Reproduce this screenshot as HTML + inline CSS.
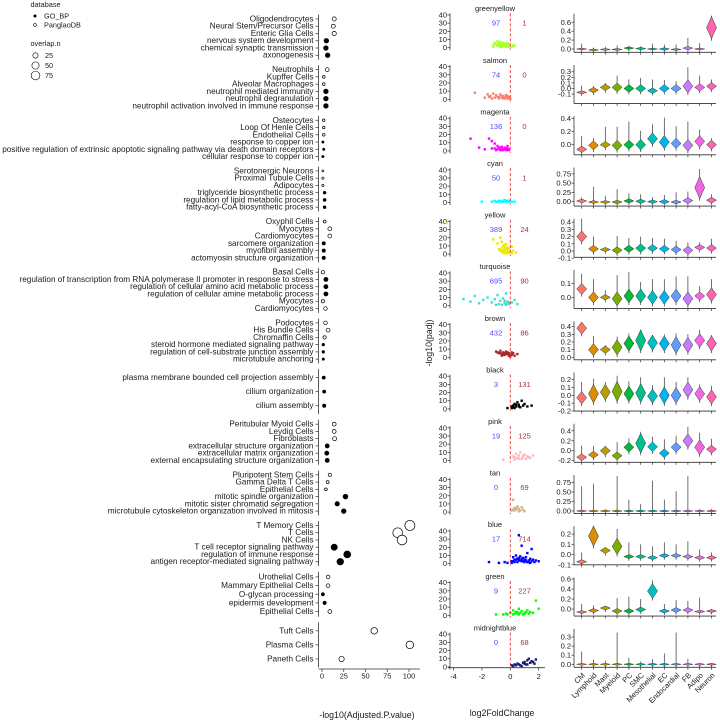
<!DOCTYPE html>
<html><head><meta charset="utf-8">
<style>
html,body{margin:0;padding:0;background:#fff;}
svg{display:block;font-family:"Liberation Sans",Arial,sans-serif;}
</style></head>
<body>
<svg id="chart" width="720" height="721" viewBox="0 0 720 721" xmlns="http://www.w3.org/2000/svg"></svg>
<script>
// ---------- LEFT: enrichment dot plot data ----------
const termLabels = [
 ["Oligodendrocytes","Neural Stem/Precursor Cells","Enteric Glia Cells","nervous system development","chemical synaptic transmission","axonogenesis"],
 ["Neutrophils","Kupffer Cells","Alveolar Macrophages","neutrophil mediated immunity","neutrophil degranulation","neutrophil activation involved in immune response"],
 ["Osteocytes","Loop Of Henle Cells","Endothelial Cells","response to copper ion","positive regulation of extrinsic apoptotic signaling pathway via death domain receptors","cellular response to copper ion"],
 ["Serotonergic Neurons","Proximal Tubule Cells","Adipocytes","triglyceride biosynthetic process","regulation of lipid metabolic process","fatty-acyl-CoA biosynthetic process"],
 ["Oxyphil Cells","Myocytes","Cardiomyocytes","sarcomere organization","myofibril assembly","actomyosin structure organization"],
 ["Basal Cells","regulation of transcription from RNA polymerase II promoter in response to stress","regulation of cellular amino acid metabolic process","regulation of cellular amine metabolic process","Myocytes","Cardiomyocytes"],
 ["Podocytes","His Bundle Cells","Chromaffin Cells","steroid hormone mediated signaling pathway","regulation of cell-substrate junction assembly","microtubule anchoring"],
 ["plasma membrane bounded cell projection assembly","cilium organization","cilium assembly"],
 ["Peritubular Myoid Cells","Leydig Cells","Fibroblasts","extracellular structure organization","extracellular matrix organization","external encapsulating structure organization"],
 ["Pluripotent Stem Cells","Gamma Delta T Cells","Epithelial Cells","mitotic spindle organization","mitotic sister chromatid segregation","microtubule cytoskeleton organization involved in mitosis"],
 ["T Memory Cells","T Cells","NK Cells","T cell receptor signaling pathway","regulation of immune response","antigen receptor-mediated signaling pathway"],
 ["Urothelial Cells","Mammary Epithelial Cells","O-glycan processing","epidermis development","Epithelial Cells"],
 ["Tuft Cells","Plasma Cells","Paneth Cells"]
];
const termDb = [
 ["P","P","P","G","G","G"],["P","P","P","G","G","G"],["P","P","P","G","G","G"],["P","P","P","G","G","G"],
 ["P","P","P","G","G","G"],["P","G","G","G","P","P"],["P","P","P","G","G","G"],["G","G","G"],
 ["P","P","P","G","G","G"],["P","P","P","G","G","G"],["P","P","P","G","G","G"],["P","P","G","G","P"],["P","P","P"]
];
const termValue = [
 [14,13,14,5,4.5,6.5],[6,2,2,4.5,4.5,4.5],[2,2,2,1,2,1],[1,1,1,3,3,3],
 [3,9,9,2,2,2],[1,4.5,4.5,4.5,1,4],[4,7,3,1.5,1.5,1.5],[2,2.5,2.5],
 [14,14,14.5,6,5.5,6],[9,6.5,4.5,27,17.5,25],[101,87,92,14,29,21],[7,7,1,3,9],[60,101,22.5]
];
const termN = [
 [14,13,15,18,18,18],[12,5,5,18,18,18],[4,4,5,3,3,3],[2,3,3,5,6,5],
 [6,12,12,8,8,8],[8,14,14,14,8,10],[10,12,8,4,4,3],[7,7,8],
 [12,12,13,14,14,14],[8,6,5,20,16,18],[100,95,95,35,45,40],[10,10,7,8,12],[40,55,25]
];
const xTicksLeft = [0,25,50,75,100];
const legendSizes = [25,50,75];

// ---------- MIDDLE: volcano data ----------
const modules = ["greenyellow","salmon","magenta","cyan","yellow","turquoise","brown","black","pink","tan","blue","green","midnightblue"];
const moduleColors = ["#ADFF2F","#FA8072","#FF00FF","#00FFFF","#E8E800","#40E0D0","#A52A2A","#000000","#FFB6C1","#D2B48C","#0000FF","#00FF00","#191970"];
const downCounts = [97,74,136,50,389,695,432,3,19,0,17,9,0];
const upCounts = [1,0,0,1,24,90,86,131,125,69,714,227,68];
const volcanoPts = [
 [[-1.1,6],[-0.9,8],[-0.8,5],[-0.7,7],[-0.6,4],[-0.5,6],[-0.4,3],[-0.3,5],[-0.2,2],[-0.1,4],[-0.9,2],[-0.6,1],[-0.3,1],[0.1,1],[0.3,2],[-1.2,1],[-0.5,2],[0.2,3],[-0.7,3],[-0.2,6],[-1.0,4],[-0.8,3],[-0.6,6],[-0.4,5],[-0.3,3],[-0.1,1],[-0.5,4],[-0.9,5],[-1.2,3],[-0.7,1]],
 [[-2.5,8],[-1.6,6],[-1.4,4],[-1.2,7],[-1.0,5],[-0.9,3],[-0.7,6],[-0.6,2],[-0.5,4],[-0.4,1],[-0.3,3],[-0.2,2],[-0.1,1],[-1.8,2],[-0.8,1],[-1.3,1],[0,0.5],[-0.3,5],[-0.2,4],[-0.1,3],[-0.4,2],[-0.6,4],[-0.8,3],[-1.1,2],[-0.2,1],[-0.5,1],[-1.5,3]],
 [[-2.8,15],[-2.2,4],[-1.8,2],[-1.5,15],[-1.3,12],[-1.1,9],[-0.9,6],[-0.8,3],[-0.6,5],[-0.5,2],[-0.4,4],[-0.3,1],[-0.2,3],[-0.1,2],[-1.0,1],[-0.7,1],[-1.3,3],[-0.2,6],[-0.5,1],[-0.9,2],[-0.8,4],[-0.6,1],[-0.4,2],[-0.3,3],[-0.1,1],[-1.1,3],[-0.7,4],[-0.2,1]],
 [[-2.0,1],[-1.3,1],[-1.1,2],[-0.9,1],[-0.7,2],[-0.5,1],[-0.4,3],[-0.3,1],[-0.2,2],[-0.1,1],[0.1,1],[0.3,1],[-0.6,1],[-0.8,2],[-0.3,2],[-0.1,2],[-1.0,1],[-0.5,2]],
 [[-4.5,38],[-1.2,18],[-0.9,13],[-0.7,20],[-0.6,15],[-0.5,10],[-0.4,8],[-0.3,12],[-0.2,5],[-0.1,7],[0.0,3],[0.2,4],[0.4,2],[-0.6,3],[-0.4,1],[-0.8,6],[-0.2,1],[0.1,9],[-0.5,4],[-0.3,2],[-0.4,5],[-0.6,7],[-0.2,3],[-0.1,2],[-0.3,6],[-0.5,2],[-0.7,4],[0.1,1],[-0.2,8],[-0.4,11]],
 [[-3.3,8],[-2.8,5],[-2.5,12],[-2.2,3],[-1.9,7],[-1.6,10],[-1.3,4],[-1.1,8],[-0.9,13],[-0.7,6],[-0.5,9],[-0.4,3],[-0.3,15],[-0.2,5],[-0.1,2],[0.1,4],[0.3,7],[0.5,2],[-1.0,1],[-0.6,1],[-0.4,6],[-0.2,3],[-0.8,2],[-0.3,1],[-0.1,4]],
 [[-1.0,7],[-0.8,5],[-0.7,8],[-0.6,4],[-0.5,6],[-0.4,3],[-0.3,7],[-0.2,4],[-0.1,2],[0.1,3],[0.2,5],[0.3,2],[0.5,4],[-0.6,2],[0,1],[-0.9,6],[-0.4,5],[-0.2,6],[-0.3,4],[-0.5,3],[0.1,6],[-0.7,5],[-0.1,5]],
 [[0.2,4],[0.3,6],[0.4,3],[0.5,8],[0.6,5],[0.7,2],[0.9,4],[1.0,6],[1.2,3],[1.5,4],[0.1,1],[0.3,1],[-0.2,1],[0.8,10],[0.2,2],[0.4,5],[0.6,3],[0.1,3]],
 [[0.2,5],[0.4,8],[0.5,3],[0.6,6],[0.7,10],[0.9,4],[1.0,7],[1.2,5],[1.4,3],[1.6,6],[0.3,1],[0.8,2],[-0.5,1],[1.1,2],[0.3,4],[0.6,2],[0.9,6],[1.3,4]],
 [[0.1,2],[0.2,15],[0.3,5],[0.4,3],[0.5,7],[0.6,4],[0.7,2],[0.8,6],[0.9,3],[1.0,1],[0.2,3],[0.4,5],[0.6,1],[0.3,2]],
 [[0.6,35],[0.8,22],[1.2,13],[1.5,18],[0.2,8],[0.4,10],[0.5,6],[0.7,9],[0.9,7],[1.0,5],[1.1,8],[1.3,4],[1.4,6],[1.6,5],[1.8,4],[2.0,3],[0.1,3],[0.3,2],[-0.8,1],[-0.4,2],[-1.5,2],[0.8,3],[1.2,2],[0.6,4],[0.2,3],[0.4,5],[0.5,2],[0.7,4],[0.9,3],[1.0,2],[1.1,4],[1.3,2],[1.5,3],[1.7,2],[0.3,5],[0.6,7],[0.1,1],[-0.2,1],[1.4,1],[0.8,6]],
 [[-1.0,1],[-0.3,2],[0.0,3],[0.2,6],[0.4,4],[0.6,8],[0.8,5],[1.0,3],[1.2,6],[1.4,4],[1.6,3],[1.8,18],[2.0,8],[0.5,2],[0.9,1],[1.3,2],[-0.5,1],[0.3,2],[0.5,4],[0.7,3],[1.1,4],[0.2,1],[0.6,1],[1.0,2],[-0.2,1]],
 [[0.1,2],[0.3,3],[0.5,4],[0.7,2],[0.9,5],[1.0,6],[1.1,3],[1.2,8],[1.3,10],[1.5,7],[1.6,6],[1.8,9],[1.7,4],[0.8,1],[0.4,2],[0.6,3],[1.0,4],[1.4,5],[1.2,3],[0.2,1]]
];
const volcanoYTicks = [0,10,20,30,40];
const volcanoXTicks = [-4,-2,0,2];

// ---------- RIGHT: violin data ----------
const cellTypes = ["CM","Lymphoid","Mast","Myeloid","PC","SMC","Mesothelial","EC","Endocardial","FB","Adipo","Neuron"];
const cellColors = ["#F8766D","#DE8C00","#B79F00","#7CAE00","#00BA38","#00C08B","#00BFC4","#00B4F0","#619CFF","#C77CFF","#F564E3","#FF64B0"];
const violinDomain = [[-0.074,0.79],[-0.27,0.42],[-0.153,0.43],[-0.118,0.92],[-0.0875,0.447],[-0.08,0.195],[-0.033,0.47],[-0.2,0.29],[-0.232,0.54],[-0.068,0.95],[-0.1,0.276],[-0.14,0.63],[-0.033,0.39]];
const violinTicks = [[0,0.2,0.4,0.6],[-0.1,0,0.1,0.2,0.3],[0,0.2,0.4],[0,0.25,0.5,0.75],[-0.1,0,0.1,0.2,0.3,0.4],[0,0.1],[0,0.1,0.2,0.3,0.4],[-0.2,-0.1,0,0.1,0.2],[-0.2,0,0.2,0.4],[0,0.25,0.5,0.75],[-0.1,0,0.1,0.2],[0,0.2,0.4,0.6],[0,0.1,0.2,0.3]];
const violinCenter = [
 [0,-0.02,-0.01,-0.01,0.02,0.01,0,0,-0.01,0.02,0,0.48],
 [-0.07,-0.03,0.02,0.02,0,0,-0.04,0,0,0.04,0.02,0.04],
 [-0.07,-0.01,0.0,-0.01,0.0,0.0,0.09,0.04,0.02,-0.01,0.05,0.0],
 [0.02,-0.01,-0.01,-0.01,0.02,0.01,0.0,0.0,-0.01,0.03,0.38,0.04],
 [0.2,0.03,0.02,0.01,0.03,0.04,0.04,0.03,0.02,0.01,0.05,0.04],
 [0.06,0.0,0.0,-0.01,0.01,0.01,0.0,0.0,0.01,-0.01,0.01,0.02],
 [0.38,0.1,0.1,0.13,0.18,0.22,0.19,0.18,0.16,0.16,0.22,0.18],
 [-0.03,0.02,0.04,0.05,0.02,0.03,-0.01,0.0,0.0,0.07,0.02,-0.02],
 [-0.13,-0.08,0.0,-0.1,0.07,0.15,0.08,-0.05,0.07,0.2,0.07,0.03],
 [0,0,0,0,0,0,0,0,0,0,0,0],
 [-0.07,0.18,0.04,0.08,-0.02,-0.02,-0.03,-0.01,-0.01,-0.02,-0.03,-0.03],
 [-0.06,-0.03,0.02,-0.04,-0.04,-0.01,0.36,-0.04,-0.02,-0.02,-0.05,-0.04],
 [0,0,0,0,0,0,0,0,0,0,0,0]
];
const violinBody = [
 [0.02,0.02,0.02,0.02,0.03,0.03,0.02,0.03,0.02,0.04,0.02,0.25],
 [0.03,0.05,0.06,0.08,0.07,0.07,0.05,0.07,0.07,0.12,0.07,0.07],
 [0.05,0.07,0.05,0.08,0.07,0.08,0.09,0.1,0.08,0.09,0.09,0.07],
 [0.05,0.04,0.04,0.05,0.06,0.06,0.05,0.06,0.05,0.08,0.3,0.08],
 [0.08,0.05,0.03,0.05,0.05,0.06,0.05,0.05,0.05,0.06,0.04,0.05],
 [0.04,0.04,0.02,0.05,0.05,0.05,0.05,0.05,0.05,0.05,0.03,0.05],
 [0.08,0.08,0.05,0.1,0.1,0.14,0.1,0.1,0.11,0.1,0.09,0.1],
 [0.08,0.12,0.1,0.13,0.1,0.12,0.09,0.11,0.1,0.1,0.09,0.09],
 [0.07,0.07,0.09,0.08,0.1,0.2,0.1,0.09,0.1,0.14,0.15,0.08],
 [0.02,0.02,0.02,0.02,0.02,0.02,0.02,0.02,0.02,0.02,0.02,0.02],
 [0.02,0.1,0.03,0.08,0.02,0.02,0.02,0.02,0.02,0.02,0.02,0.02],
 [0.03,0.04,0.04,0.05,0.05,0.05,0.15,0.04,0.05,0.05,0.03,0.03],
 [0.003,0.003,0.003,0.003,0.003,0.003,0.003,0.003,0.003,0.003,0.003,0.003]
];
const violinTop = [
 [0.12,0.03,0.05,0.08,0.07,0.06,0.12,0.1,0.1,0.25,0.13,0.75],
 [0.05,0.04,0.1,0.23,0.16,0.19,0.16,0.15,0.13,0.38,0.23,0.16],
 [0.13,0.1,0.27,0.27,0.35,0.21,0.31,0.41,0.28,0.35,0.23,0.1],
 [0.12,0.4,0.16,0.34,0.22,0.2,0.12,0.18,0.25,0.27,0.88,0.2],
 [0.45,0.2,0.05,0.21,0.18,0.2,0.18,0.17,0.14,0.12,0.12,0.17],
 [0.17,0.13,0.05,0.16,0.18,0.11,0.13,0.13,0.15,0.15,0.08,0.13],
 [0.44,0.28,0.16,0.27,0.31,0.35,0.29,0.3,0.31,0.3,0.36,0.29],
 [0.17,0.21,0.17,0.25,0.18,0.23,0.13,0.23,0.17,0.23,0.14,0.12],
 [0.1,0.1,0.1,0.17,0.25,0.38,0.28,0.23,0.3,0.48,0.36,0.24],
 [0.65,0.72,0.05,0.92,0.3,0.18,0.8,0.3,0.52,0.92,0.05,0.05],
 [0.02,0.2,0.06,0.25,0.12,0.1,0.08,0.12,0.1,0.13,0.05,0.02],
 [0.1,0.07,0.05,0.22,0.25,0.2,0.57,0.1,0.18,0.16,0.23,0.0],
 [0.14,0.05,0.04,0.35,0.07,0.03,0.06,0.12,0.35,0.06,0.01,0.01]
];

const NS = "http://www.w3.org/2000/svg";
const svg = document.getElementById("chart");
function mk(tag, attrs, parent) {
  const e = document.createElementNS(NS, tag);
  for (const k in attrs) e.setAttribute(k, attrs[k]);
  (parent || svg).appendChild(e);
  return e;
}
function txt(str, x, y, size, anchor, parent) {
  const t = mk("text", {x: x, y: y, "font-size": size, "text-anchor": anchor || "start", fill: "#1a1a1a", "dominant-baseline": "central"}, parent);
  t.textContent = str;
  return t;
}

// ===== LEFT PANEL =====
const leftX = v => 322 + v * 0.87;
const sizeR = n => 0.3 + 0.47 * Math.sqrt(n);
const leftG = mk("g", {});


for (let g = 0; g < termLabels.length; g++) {
  const top = 14.6 + 50.65 * g, H = 45, n = termLabels[g].length, sp = H / (n + 0.2);
  const ax = mk("line", {x1: 318.5, x2: 318.5, y1: top, y2: top + H, stroke: "#333", "stroke-width": 0.8}, leftG);
  
  
  for (let j = 0; j < n; j++) {
    const y = top + 0.6 * sp + j * sp;
    mk("line", {x1: 315.5, x2: 318.5, y1: y, y2: y, stroke: "#333", "stroke-width": 0.7}, leftG);
    const lab = txt(termLabels[g][j], 313.5, y, 8.2, "end", leftG);
    
    
    const isGo = termDb[g][j] === "G";
    const c = mk("circle", {cx: leftX(termValue[g][j]), cy: y, r: sizeR(termN[g][j]), fill: isGo ? "#000" : "#fff", stroke: "#000", "stroke-width": 0.7}, leftG);
    
    
  }
}
mk("line", {x1: 318.5, x2: 420, y1: 669, y2: 669, stroke: "#333", "stroke-width": 0.8}, leftG);
for (const v of xTicksLeft) {
  mk("line", {x1: leftX(v), x2: leftX(v), y1: 669, y2: 672, stroke: "#333", "stroke-width": 0.7}, leftG);
  const t = txt(String(v), leftX(v), 676, 7.5, "middle", leftG);
  
  
}
const lxt = txt("-log10(Adjusted.P.value)", 367, 715, 8.8, "middle");



// legend
const lgT = txt("database", 30.5, 4.5, 7.3, "start");


mk("circle", {cx: 35, cy: 16, r: 1.5, fill: "#000"});
const lg1 = txt("GO_BP", 44, 16, 7.3, "start");


mk("circle", {cx: 35, cy: 25, r: 1.4, fill: "#fff", stroke: "#000", "stroke-width": 0.6});
const lg2 = txt("PanglaoDB", 44, 25, 7.3, "start");


const lgT2 = txt("overlap.n", 30.5, 43.5, 7.3, "start");


legendSizes.forEach((s, i) => {
  mk("circle", {cx: 35.5, cy: 55.5 + i * 10, r: sizeR(s), fill: "#fff", stroke: "#000", "stroke-width": 0.6});
  const t = txt(String(s), 45, 55.5 + i * 10, 7.3, "start");
  
  
});

// ===== MIDDLE PANEL =====
const vx = l => 510.3 + 14.2 * l;
const midG = mk("g", {});


for (let i = 0; i < modules.length; i++) {
  const y0 = 47.7 + 51.6 * i;
  const vy = v => y0 - v * 0.8175;
  const tt = txt(modules[i], 495, y0 - 39, 7.5, "middle", midG);
  
  
  mk("line", {x1: 450, x2: 450, y1: vy(42), y2: y0 + 2.5, stroke: "#333", "stroke-width": 0.8}, midG);
  for (const t of volcanoYTicks) {
    mk("line", {x1: 447.5, x2: 450, y1: vy(t), y2: vy(t), stroke: "#333", "stroke-width": 0.7}, midG);
    const tl = txt(String(t), 447, vy(t), 7.5, "end", midG);
    
    
  }
  for (const p of volcanoPts[i]) {
    const c = mk("rect", {x: vx(p[0]) - 1.2, y: vy(p[1]) - 1.2, width: 2.4, height: 2.4, fill: moduleColors[i]}, midG);
    
    
  }
  mk("line", {x1: vx(0), x2: vx(0), y1: vy(42), y2: y0 + 2, stroke: "#f03030", "stroke-width": 0.9, "stroke-dasharray": "3,2"}, midG);
  const dn = txt(String(downCounts[i]), 496, vy(30), 7.5, "middle", midG);
  dn.setAttribute('fill', '#4a4aff');
  
  
  const up = txt(String(upCounts[i]), 524.5, vy(30), 7.5, "middle", midG);
  up.setAttribute('fill', '#a83232');
  
  
}
mk("line", {x1: 448, x2: 545, y1: 667.7, y2: 667.7, stroke: "#333", "stroke-width": 0.8}, midG);
for (const t of volcanoXTicks) {
  mk("line", {x1: vx(t), x2: vx(t), y1: 667.7, y2: 670.5, stroke: "#333", "stroke-width": 0.7}, midG);
  const tl = txt(String(t), vx(t), 676.5, 7.5, "middle", midG);
  
  
}
const mxt = txt("log2FoldChange", 502, 713, 8.8, "middle");


const myt = txt("-log10(padj)", 0, 0, 8.8, "middle");
myt.setAttribute('transform', 'translate(429,343) rotate(-90)');



// ===== RIGHT PANEL =====
const cx = c => 581.7 + 11.8 * c;
const rightG = mk("g", {});


for (let i = 0; i < modules.length; i++) {
  const axY = 52.3 + 51.25 * i, top = axY - 38.5;
  const d = violinDomain[i];
  const ry = v => axY - (v - d[0]) / (d[1] - d[0]) * (axY - top);
  mk("line", {x1: 574, x2: 574, y1: top, y2: axY, stroke: "#333", "stroke-width": 0.8}, rightG);
  mk("line", {x1: 574, x2: 716, y1: axY, y2: axY, stroke: "#333", "stroke-width": 0.8}, rightG);
  for (const t of violinTicks[i]) {
    mk("line", {x1: 571.5, x2: 574, y1: ry(t), y2: ry(t), stroke: "#333", "stroke-width": 0.7}, rightG);
    const dec = violinTicks[i].some(v => Math.round(v * 100) % 10 !== 0) ? 2 : 1;
    const tl = txt(t.toFixed(dec), 571, ry(t), 7.5, "end", rightG);
    
    
  }
  for (let c = 0; c < cellTypes.length; c++) {
    const x = cx(c);
    mk("line", {x1: x, x2: x, y1: axY, y2: axY + 2.5, stroke: "#333", "stroke-width": 0.7}, rightG);
    const ctr = violinCenter[i][c], b = violinBody[i][c];
    let yTop = ry(ctr + b), yBot = ry(ctr - b), ym = ry(ctr);
    if (yBot - yTop < 2) { yTop = ym - 1; yBot = ym + 1; }
    const tail = mk("line", {x1: x, x2: x, y1: ry(Math.max(violinTop[i][c], ctr + b)), y2: Math.min(yBot + 2, axY), stroke: "#333", "stroke-width": 0.7}, rightG);
    
    
    const w = 5;
    const path = `M${x},${yTop} Q${x + w * 0.5},${ym - (ym - yTop) * 0.45} ${x + w},${ym} Q${x + w * 0.5},${ym + (yBot - ym) * 0.45} ${x},${yBot} Q${x - w * 0.5},${ym + (yBot - ym) * 0.45} ${x - w},${ym} Q${x - w * 0.5},${ym - (ym - yTop) * 0.45} ${x},${yTop}Z`;
    const v = mk("path", {d: path, fill: cellColors[c], stroke: "#333", "stroke-width": 0.5}, rightG);
    
    
  }
}
cellTypes.forEach((name, c) => {
  const t = txt(name, 0, 0, 7.5, "end", rightG);
  t.setAttribute('transform', `translate(${cx(c) + 2},${674}) rotate(-45)`);
  
  
});
</script>
</body></html>
